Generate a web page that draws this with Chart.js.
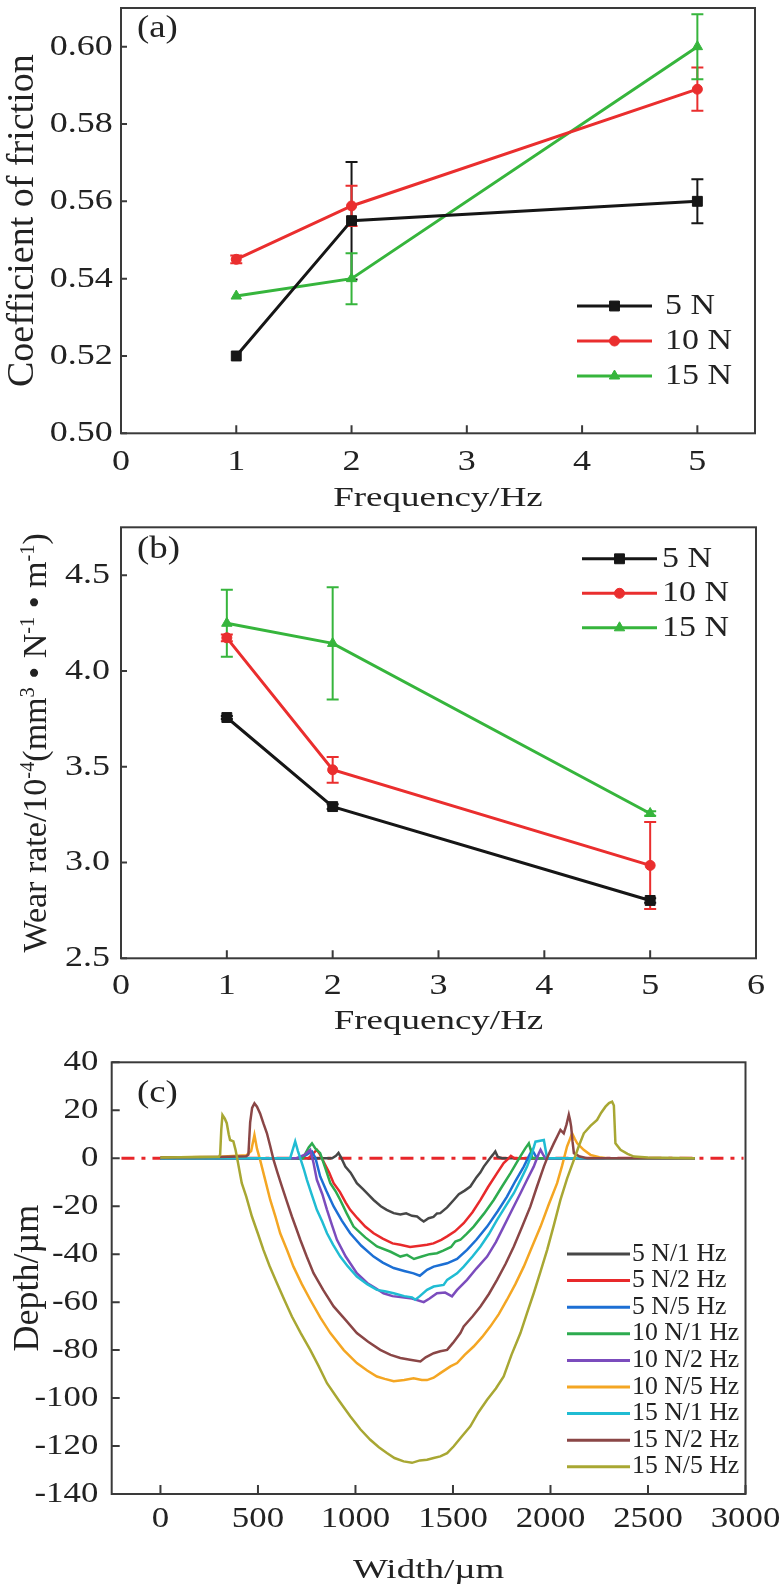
<!DOCTYPE html>
<html>
<head>
<meta charset="utf-8">
<script src="https://cdn.jsdelivr.net/npm/chart.js@4.4.0/dist/chart.umd.min.js"></script>
<style>
  html, body { margin: 0; padding: 0; background: #fff; }
  #page { position: relative; width: 781px; height: 1588px; overflow: hidden; background: #fff; }
  .panel { position: absolute; left: 0; width: 781px; }
  .panel canvas { display: block; }
</style>
</head>
<body>
<div id="page">
  <div class="panel" style="top:0;height:515px"><canvas id="chartA" width="781" height="515"></canvas></div>
  <div class="panel" style="top:515px;height:525px"><canvas id="chartB" width="781" height="525"></canvas></div>
  <div class="panel" style="top:1040px;height:548px"><canvas id="chartC" width="781" height="548"></canvas></div>
</div>
<script>
// ---------- data ----------
const loadLabels = ['5 N', '10 N', '15 N'];
const freqHz = [1, 2, 5];

// (a) coefficient of friction
const cof5N = [0.520, 0.555, 0.560];
const cof10N = [0.545, 0.5588, 0.589];
const cof15N = [0.5355, 0.540, 0.600];
const cofErr5N = [0, 0.0152, 0.0057];
const cofErr10N = [0.001, 0.0052, 0.0056];
const cofErr15N = [0, 0.0066, 0.0084];

// (b) wear rate, 10^-4 mm3/(N m)
const wear5N = [3.757, 3.292, 2.802];
const wear10N = [4.173, 3.484, 2.985];
const wear15N = [4.249, 4.144, 3.256];
const wearErr5N = [0.008, 0.012, 0.012];
const wearErr10N = [0.018, 0.067, 0.227];
const wearErr15N = [0.175, 0.293, 0.012];

// tick values
const freqTicksA = [0, 1, 2, 3, 4, 5];
const cofTicks = [0.50, 0.52, 0.54, 0.56, 0.58, 0.60];
const freqTicksB = [0, 1, 2, 3, 4, 5, 6];
const wearTicks = [2.5, 3.0, 3.5, 4.0, 4.5];
const widthTicks = [0, 500, 1000, 1500, 2000, 2500, 3000];
const depthTicks = [40, 20, 0, -20, -40, -60, -80, -100, -120, -140];

// (c) wear track profiles, [width um, depth um]
const profileLabels = ['5 N/1 Hz', '5 N/2 Hz', '5 N/5 Hz', '10 N/1 Hz', '10 N/2 Hz',
  '10 N/5 Hz', '15 N/1 Hz', '15 N/2 Hz', '15 N/5 Hz'];

const prof5N1Hz = [[0,0],[880,0],[900,1],[913,2.2],[925,0.5],[948,-3.5],[975,-6],[1007,-10.4],
  [1040,-13],[1070,-15.5],[1093,-17.4],[1130,-20],[1160,-21.5],[1196,-22.9],[1230,-23.5],[1260,-23],
  [1290,-24],[1316,-24.3],[1335,-25.5],[1350,-26.4],[1375,-25],[1400,-24.5],[1418,-23],[1435,-22.9],
  [1470,-20.5],[1504,-17.4],[1530,-15],[1560,-13.5],[1589,-11.8],[1620,-8],[1640,-6],[1658,-3.5],
  [1690,0],[1705,1.5],[1717,2.8],[1730,0.5],[1752,0],[2740,0]];

const prof5N2Hz = [[0,0],[760,0],[790,2.5],[802,3.5],[815,2],[840,-2],[865,-6],[888,-10.4],
  [920,-14],[950,-18.5],[973,-21.5],[1010,-25],[1050,-28.5],[1093,-31.3],[1140,-33.5],[1190,-35.5],
  [1230,-36.1],[1280,-37],[1330,-36.5],[1367,-36.1],[1400,-35.5],[1440,-34],[1470,-32.6],[1510,-30.5],
  [1555,-27.1],[1600,-22.5],[1641,-17.4],[1680,-12],[1726,-6.2],[1760,-2],[1780,-0.5],[1797,1],
  [1815,0],[2740,0]];

const prof5N5Hz = [[0,0],[720,0],[750,1.5],[777,2.8],[795,0],[819,-7.6],[850,-13.5],[888,-20.1],
  [930,-26],[973,-31.3],[1030,-36.5],[1093,-41],[1140,-43.5],[1196,-45.8],[1250,-47],[1298,-48],
  [1330,-49],[1367,-46.5],[1401,-45.2],[1435,-44.5],[1470,-43.8],[1521,-42],[1572,-38.2],[1620,-34],
  [1675,-28.5],[1730,-22],[1777,-16],[1820,-9.5],[1863,-3.5],[1890,1],[1906,3.5],[1920,1.5],
  [1931,0],[2740,0]];

const prof10N1Hz = [[0,0],[730,0],[760,4.5],[777,6.2],[795,4],[819,2.1],[845,-4],[871,-10.4],
  [900,-14],[922,-17.4],[955,-23],[990,-28.5],[1050,-33],[1110,-36.8],[1180,-39],[1230,-41],
  [1264,-40.3],[1300,-42],[1340,-41],[1380,-40],[1418,-39.6],[1450,-38.5],[1490,-37],[1512,-34.7],
  [1538,-34],[1570,-31.5],[1606,-28.5],[1660,-23],[1709,-17.4],[1750,-12],[1795,-6.2],[1840,0],
  [1870,4],[1889,6.2],[1900,3],[1906,0],[2740,0]];

const prof10N2Hz = [[0,0],[700,0],[740,1.5],[768,3.5],[785,-2],[802,-9],[830,-15],[854,-21.5],
  [880,-28],[905,-34],[950,-41],[1007,-47.9],[1060,-52],[1100,-54],[1144,-56.3],[1190,-57.5],
  [1240,-58],[1290,-58.5],[1350,-60],[1380,-58.5],[1418,-56.3],[1460,-56],[1495,-57.6],[1520,-55],
  [1572,-50.7],[1620,-46],[1675,-41],[1720,-35],[1760,-28.5],[1800,-22],[1846,-14.6],[1880,-9],
  [1914,-3.5],[1940,2],[1949,3.5],[1962,1.5],[1974,0],[2740,0]];

const prof10N5Hz = [[0,0.3],[300,0.6],[440,1.2],[465,3],[482,9.7],[495,4],[511,-0.7],[537,-9],
  [563,-17.4],[590,-24.5],[614,-31.3],[650,-38.5],[682,-45.2],[725,-52.5],[768,-59],[820,-66.5],
  [871,-72.9],[940,-80],[1007,-85.4],[1060,-88.5],[1110,-91],[1150,-92],[1196,-93],[1250,-92.5],
  [1298,-91.7],[1340,-92.5],[1367,-92.5],[1401,-91.5],[1435,-89.6],[1487,-86.8],[1521,-85.4],
  [1560,-82],[1606,-78.5],[1650,-74.5],[1692,-70.1],[1735,-65],[1777,-59],[1820,-52.5],[1863,-45.2],
  [1905,-37],[1949,-28.5],[1990,-19.5],[2034,-10.4],[2060,-3],[2085,4.9],[2100,8],[2111,10.4],
  [2125,8],[2137,6.2],[2170,3.5],[2205,1.4],[2250,0.4],[2291,0],[2740,0]];

const prof15N1Hz = [[0,0],[665,0],[680,4],[691,7],[705,3],[717,0],[735,-4.5],[751,-9],[775,-15],
  [802,-21.5],[830,-26.5],[854,-31.3],[885,-36],[922,-41],[960,-45],[1007,-49.3],[1060,-52.5],
  [1110,-54.9],[1150,-55.5],[1196,-56.3],[1250,-57.5],[1290,-58],[1307,-59],[1330,-57.5],[1367,-54.9],
  [1401,-53.5],[1452,-52.8],[1470,-50.7],[1521,-48],[1555,-45.2],[1600,-41],[1641,-36.8],[1685,-31.5],
  [1726,-25.7],[1770,-20],[1812,-14.6],[1850,-8.5],[1880,-3.5],[1905,2],[1923,6.9],[1966,7.6],
  [1976,3],[1983,0],[2740,0]];

const prof15N2Hz = [[0,0.3],[300,0.5],[440,0.8],[451,1.5],[460,15],[470,21],[482,22.9],[495,21.5],
  [511,18.7],[528,14.5],[546,10.4],[563,5],[580,-0.7],[600,-6],[623,-11.8],[648,-18],[674,-24.3],
  [695,-29],[717,-34],[750,-41],[785,-47.9],[835,-55],[888,-61.8],[950,-67.5],[1007,-72.9],
  [1065,-76.5],[1127,-79.9],[1180,-82],[1230,-83.3],[1280,-84],[1333,-84.7],[1360,-83],[1401,-81.3],
  [1435,-80.5],[1470,-79.9],[1500,-77],[1538,-72.9],[1555,-70.1],[1600,-66],[1641,-61.8],
  [1685,-56.5],[1726,-50.7],[1770,-44],[1812,-36.8],[1855,-28.5],[1897,-20.1],[1930,-12],
  [1966,-3.5],[1990,1.5],[2017,6.2],[2040,10],[2051,11.8],[2068,10.4],[2082,14],[2094,18.1],
  [2100,16],[2106,13.2],[2113,7],[2120,2.1],[2150,0.7],[2188,0],[2740,0]];

const prof15N5Hz = [[0,0.3],[300,0.6],[306,1.5],[312,12],[318,18],[330,16.5],[340,14.6],[350,10],
  [357,7.6],[374,7],[385,3.5],[395,-0.7],[417,-10.4],[440,-16],[469,-24.3],[500,-31.5],[528,-38.2],
  [560,-45],[597,-52],[635,-59],[674,-66],[720,-73],[768,-79.9],[810,-86.5],[854,-93.8],[915,-101],
  [973,-107.6],[1025,-113],[1076,-117.4],[1120,-120.5],[1161,-122.9],[1200,-125],[1247,-126.4],
  [1290,-127],[1330,-126],[1367,-125.7],[1401,-125],[1435,-124.3],[1470,-123],[1504,-120.1],
  [1545,-116],[1589,-111.8],[1630,-106],[1675,-100.7],[1720,-96],[1760,-91],[1800,-82],[1846,-72.9],
  [1880,-64.5],[1914,-56.3],[1950,-47],[1983,-38.2],[2017,-28],[2051,-17.4],[2085,-8.5],[2120,-0.7],
  [2145,5],[2171,10.4],[2205,13.5],[2239,16],[2260,19],[2282,21.5],[2300,23],[2316,23.6],[2325,22],
  [2333,6.2],[2359,3.5],[2395,1.8],[2428,0.7],[2500,0.3],[2740,0]];

const zeroLine = [[-200, 0], [2990, 0]];

// ---------- drawing helpers ----------
const FONT = '"Liberation Serif", "Times New Roman", serif';
const INK = '#222222';
const seriesColors = ['#161616', '#ea2e2e', '#36b53c'];
const profileColors = ['#474747', '#e8292b', '#1c6fd4', '#2dab4f', '#7b4cbd',
  '#f4a623', '#20bcd3', '#8a4646', '#a8a733'];

// text drawn with a horizontal stretch, like the squeezed serif of the original figure
function drawLabel(ctx, parts, x, y, o) {
  const segs = typeof parts === 'string' ? [[parts, false]] : parts;
  const size = o.size;
  const supSize = size * 0.6;
  ctx.save();
  ctx.translate(x, y);
  if (o.rotate) ctx.rotate(o.rotate);
  ctx.scale(o.sx || 1, 1);
  ctx.fillStyle = o.color || INK;
  ctx.textBaseline = o.baseline || 'alphabetic';
  ctx.textAlign = 'left';
  let total = 0;
  const widths = segs.map(([t, sup]) => {
    ctx.font = (sup ? supSize : size) + 'px ' + FONT;
    const w = ctx.measureText(t).width;
    total += w;
    return w;
  });
  let cx = o.align === 'center' ? -total / 2 : (o.align === 'right' ? -total : 0);
  segs.forEach(([t, sup], i) => {
    ctx.font = (sup ? supSize : size) + 'px ' + FONT;
    ctx.fillText(t, cx, sup ? -size * 0.34 : 0);
    cx += widths[i];
  });
  ctx.restore();
}

function makeDecor(cfg) {
  return {
    id: 'decor',
    beforeDatasetsDraw(chart) {
      const { ctx, scales: { x, y } } = chart;
      chart.data.datasets.forEach(ds => {
        if (!ds.errorBars) return;
        ctx.save();
        ctx.strokeStyle = ds.borderColor;
        ctx.lineWidth = 2;
        ds.data.forEach((p, j) => {
          const e = ds.errorBars[j];
          if (!e) return;
          const px = x.getPixelForValue(p.x);
          const top = y.getPixelForValue(p.y + e);
          const bot = y.getPixelForValue(p.y - e);
          ctx.beginPath();
          ctx.moveTo(px, top); ctx.lineTo(px, bot);
          ctx.moveTo(px - 6, top); ctx.lineTo(px + 6, top);
          ctx.moveTo(px - 6, bot); ctx.lineTo(px + 6, bot);
          ctx.stroke();
        });
        ctx.restore();
      });
    },
    afterDraw(chart) {
      const { ctx, chartArea: a, scales: { x, y } } = chart;
      ctx.save();
      ctx.strokeStyle = '#3a3a3a';
      ctx.lineWidth = 2;
      const top = Math.max(a.top, 1);
      ctx.strokeRect(a.left, top, a.right - a.left, a.bottom - top);
      ctx.beginPath();
      cfg.xTicks.forEach(v => {
        const px = x.getPixelForValue(v);
        ctx.moveTo(px, a.bottom); ctx.lineTo(px, a.bottom - cfg.xTickLen);
      });
      cfg.yTicks.forEach(v => {
        const py = y.getPixelForValue(v);
        ctx.moveTo(a.left, py); ctx.lineTo(a.left + cfg.yTickLen, py);
      });
      ctx.stroke();
      ctx.restore();

      cfg.xTicks.forEach(v => drawLabel(ctx, cfg.xFmt(v), x.getPixelForValue(v), cfg.xLabelBase,
        { size: cfg.tickSize, sx: 1.2, align: 'center' }));
      cfg.yTicks.forEach(v => drawLabel(ctx, cfg.yFmt(v), cfg.yLabelRight, y.getPixelForValue(v),
        { size: cfg.tickSize, sx: 1.2, align: 'right', baseline: 'middle' }));

      drawLabel(ctx, cfg.xTitle, (a.left + a.right) / 2, cfg.xTitleBase,
        { size: 27, sx: 1.37, align: 'center' });
      drawLabel(ctx, cfg.yTitle, cfg.yTitleBase, (a.top + a.bottom) / 2,
        { size: cfg.yTitleSize, align: 'center', rotate: -Math.PI / 2 });
      drawLabel(ctx, cfg.letter, 137, cfg.letterBase, { size: 32, sx: 1.15 });

      const L = cfg.legend;
      chart.data.datasets.forEach((ds, i) => {
        if (ds.noLegend) return;
        const ry = L.top + i * L.step;
        ctx.save();
        ctx.strokeStyle = ds.borderColor;
        ctx.fillStyle = ds.borderColor;
        ctx.lineWidth = L.lineWidth;
        ctx.beginPath();
        ctx.moveTo(L.x0, ry); ctx.lineTo(L.x1, ry);
        ctx.stroke();
        if (ds.pointRadius) {
          ctx.lineWidth = 1;
          Chart.helpers.drawPoint(ctx, { pointStyle: ds.pointStyle, radius: ds.pointRadius,
            borderWidth: 1, rotation: 0 }, (L.x0 + L.x1) / 2, ry);
        }
        ctx.restore();
        drawLabel(ctx, ds.label, L.textX, ry, { size: L.size, sx: L.sx, baseline: 'middle' });
      });
    }
  };
}

function axis(min, max, fit) {
  return {
    type: 'linear', min, max, display: true,
    grid: { display: false, drawTicks: false },
    border: { display: false },
    ticks: { display: false },
    afterFit: fit
  };
}

function markerSet(label, color, style, radius, ys, errs) {
  return {
    label,
    data: freqHz.map((f, i) => ({ x: f, y: ys[i] })),
    errorBars: errs,
    borderColor: color, backgroundColor: color,
    pointBackgroundColor: color, pointBorderColor: color,
    borderWidth: 3, pointStyle: style, pointRadius: radius, pointBorderWidth: 1,
    tension: 0
  };
}

function baseOptions(pad, leftW, bottomH, xr, yr) {
  return {
    responsive: false, animation: false, events: [],
    layout: { padding: { left: 0, bottom: 0, top: pad.top, right: pad.right } },
    plugins: { legend: { display: false }, tooltip: { enabled: false } },
    scales: {
      x: axis(xr[0], xr[1], s => { s.height = bottomH; }),
      y: axis(yr[0], yr[1], s => { s.width = leftW; })
    }
  };
}

// ---------- (a) ----------
new Chart(document.getElementById('chartA'), {
  type: 'line',
  data: {
    datasets: [
      markerSet(loadLabels[0], seriesColors[0], 'rect', 7, cof5N, cofErr5N),
      markerSet(loadLabels[1], seriesColors[1], 'circle', 5, cof10N, cofErr10N),
      markerSet(loadLabels[2], seriesColors[2], 'triangle', 6, cof15N, cofErr15N)
    ]
  },
  options: baseOptions({ top: 0, right: 26 }, 121, 81.7, [0, 5.5], [0.50, 0.61]),
  plugins: [makeDecor({
    xTicks: freqTicksA, yTicks: cofTicks, xTickLen: 8, yTickLen: 6,
    xFmt: v => String(v), yFmt: v => v.toFixed(2),
    tickSize: 30, xLabelBase: 470, yLabelRight: 112.7,
    xTitle: 'Frequency/Hz', xTitleBase: 506,
    yTitle: 'Coefficient of friction', yTitleSize: 38, yTitleBase: 33,
    letter: '(a)', letterBase: 37,
    legend: { top: 306, step: 35, x0: 577, x1: 652, textX: 665, size: 30, sx: 1.13, lineWidth: 3 }
  })]
});

// ---------- (b) ----------
new Chart(document.getElementById('chartB'), {
  type: 'line',
  data: {
    datasets: [
      markerSet(loadLabels[0], seriesColors[0], 'rect', 7, wear5N, wearErr5N),
      markerSet(loadLabels[1], seriesColors[1], 'circle', 5, wear10N, wearErr10N),
      markerSet(loadLabels[2], seriesColors[2], 'triangle', 6, wear15N, wearErr15N)
    ]
  },
  options: baseOptions({ top: 12.3, right: 25 }, 121, 81.7, [0, 6], [2.5, 4.75]),
  plugins: [makeDecor({
    xTicks: freqTicksB, yTicks: wearTicks, xTickLen: 8, yTickLen: 6,
    xFmt: v => String(v), yFmt: v => v.toFixed(1),
    tickSize: 30, xLabelBase: 479, yLabelRight: 110,
    xTitle: 'Frequency/Hz', xTitleBase: 514,
    yTitle: [['Wear rate/10', false], ['-4', true], ['(mm', false], ['3', true],
      [' \u2022 N', false], ['-1', true], [' \u2022 m', false], ['-1', true], [')', false]],
    yTitleSize: 34, yTitleBase: 46,
    letter: '(b)', letterBase: 43,
    legend: { top: 43.8, step: 34.5, x0: 582, x1: 657, textX: 662, size: 30, sx: 1.13, lineWidth: 3 }
  })]
});

// ---------- (c) ----------
const profiles = [prof5N1Hz, prof5N2Hz, prof5N5Hz, prof10N1Hz, prof10N2Hz,
  prof10N5Hz, prof15N1Hz, prof15N2Hz, prof15N5Hz];

const profileSets = profiles.map((pts, i) => ({
  label: profileLabels[i],
  data: pts.map(([w, d]) => ({ x: w, y: d })),
  borderColor: profileColors[i],
  borderWidth: 2.5, pointRadius: 0, tension: 0,
  order: profiles.length - i
}));
profileSets.push({
  label: '', noLegend: true,
  data: zeroLine.map(([w, d]) => ({ x: w, y: d })),
  borderColor: '#e8262a', borderWidth: 3, borderDash: [13, 7, 4, 7],
  pointRadius: 0, order: 20
});

new Chart(document.getElementById('chartC'), {
  type: 'line',
  data: { datasets: profileSets },
  options: baseOptions({ top: 22.3, right: 35.5 }, 111.7, 94, [-250, 3000], [-140, 40]),
  plugins: [makeDecor({
    xTicks: widthTicks, yTicks: depthTicks, xTickLen: 9, yTickLen: 8,
    xFmt: v => String(v), yFmt: v => String(v),
    tickSize: 29, xLabelBase: 487, yLabelRight: 98.3,
    xTitle: 'Width/\u00b5m', xTitleBase: 538,
    yTitle: 'Depth/\u00b5m', yTitleSize: 36, yTitleBase: 38,
    letter: '(c)', letterBase: 62,
    legend: { top: 214, step: 26.6, x0: 567, x1: 630, textX: 632, size: 25, sx: 1.03, lineWidth: 3 }
  })]
});
</script>
</body>
</html>
